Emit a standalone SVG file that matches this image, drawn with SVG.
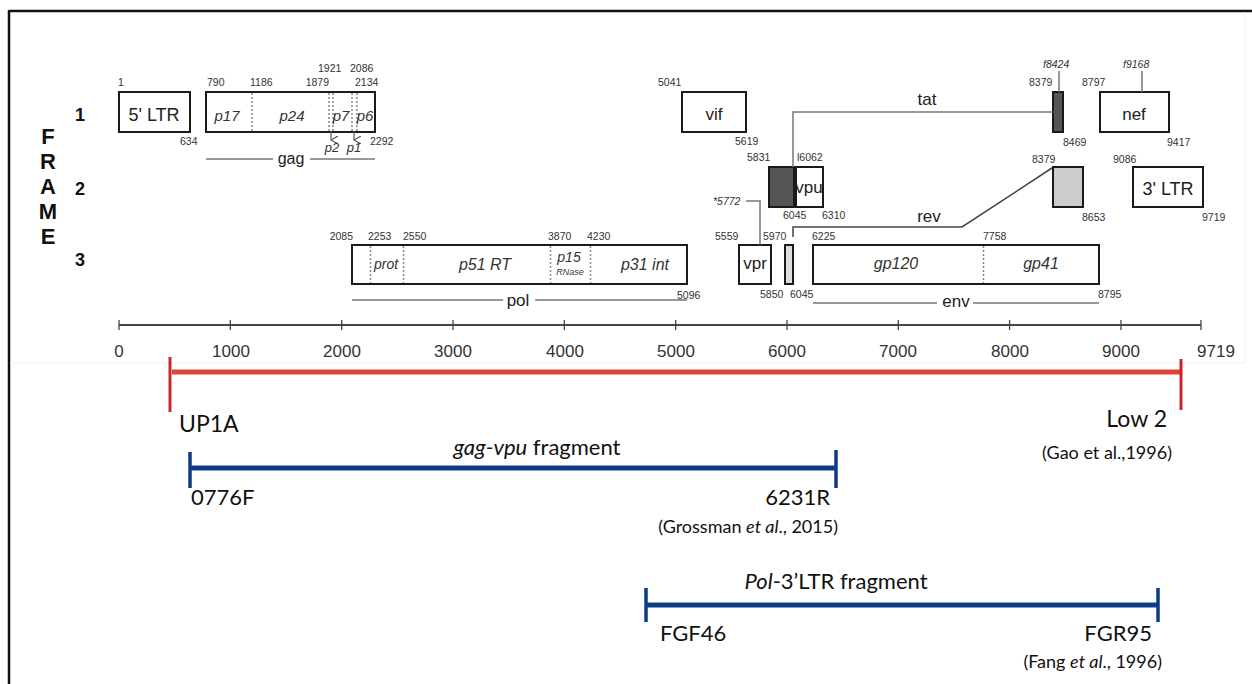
<svg xmlns="http://www.w3.org/2000/svg" width="1252" height="684" viewBox="0 0 1252 684">
<style>
.n{font-family:"Liberation Sans",Arial,sans-serif;font-size:10.5px;fill:#333}
.ni{font-family:"Liberation Sans",Arial,sans-serif;font-size:10.5px;fill:#333;font-style:italic}
.lb{font-family:"Liberation Sans",Arial,sans-serif;font-size:17px;fill:#222;text-anchor:middle}
.li{font-family:"Liberation Sans",Arial,sans-serif;font-size:15px;fill:#333;text-anchor:middle;font-style:italic}
.fr{font-family:"Liberation Sans",Arial,sans-serif;font-size:22px;font-weight:bold;fill:#111;text-anchor:middle}
.ax{font-family:"Liberation Sans",Arial,sans-serif;font-size:17px;fill:#333;text-anchor:middle}
.box{fill:#fff;stroke:#1a1a1a;stroke-width:2}
.dot{stroke:#888;stroke-width:1.5;stroke-dasharray:2,2}
.ln{stroke:#777;stroke-width:1.5;fill:none}
.bt{font-family:Lato,"Open Sans",sans-serif;font-size:22px;fill:#111}
.ct{font-family:Lato,"Open Sans",sans-serif;font-size:18px;fill:#111}
.red{stroke:#e0453a;stroke-width:5}
.redt{stroke:#c8262e;stroke-width:3}
.blue{stroke:#0d3b87;stroke-width:5}
.bluet{stroke:#0d3b87;stroke-width:3.5}
</style>
<defs>
<marker id="vh" viewBox="0 0 8 8" refX="4" refY="7" markerWidth="8" markerHeight="8" markerUnits="userSpaceOnUse" orient="auto-start-reverse">
<path d="M0,0 L4,7 L8,0" fill="none" stroke="#555" stroke-width="1.2"/>
</marker>
</defs>
<rect width="1252" height="684" fill="#fff"/>
<g id="frame-border">
<line x1="9" y1="11" x2="1252" y2="11" stroke="#111" stroke-width="2.5"/>
<line x1="9" y1="10" x2="9" y2="684" stroke="#111" stroke-width="2.5"/>
<line x1="1245" y1="12" x2="1245" y2="363" stroke="#eee" stroke-width="1"/>
<line x1="10" y1="363" x2="1245" y2="363" stroke="#eee" stroke-width="1"/>
</g>
<g id="frame-label">
<text class="fr" x="48" y="144">F</text>
<text class="fr" x="48" y="169">R</text>
<text class="fr" x="48" y="194">A</text>
<text class="fr" x="48" y="219">M</text>
<text class="fr" x="48" y="244">E</text>
<text class="fr" x="80" y="121" style="font-size:18px">1</text>
<text class="fr" x="80" y="195" style="font-size:18px">2</text>
<text class="fr" x="80" y="266" style="font-size:18px">3</text>
</g>
<g id="ltr5">
<rect class="box" x="119" y="92" width="71" height="40"/>
<text class="lb" x="154" y="121" style="font-size:18px">5' LTR</text>
<text class="n" x="118" y="86">1</text>
<text class="n" x="180" y="145">634</text>
</g>
<g id="gag">
<rect class="box" x="206" y="92" width="169" height="40"/>
<line class="dot" x1="252" y1="93" x2="252" y2="131"/>
<line class="dot" x1="329" y1="93" x2="329" y2="131"/>
<line class="dot" x1="333" y1="93" x2="333" y2="131"/>
<line class="dot" x1="352" y1="93" x2="352" y2="131"/>
<line class="dot" x1="357" y1="93" x2="357" y2="131"/>
<text class="li" x="227" y="121">p17</text>
<text class="li" x="292" y="121">p24</text>
<text class="li" x="341" y="121">p7</text>
<text class="li" x="365" y="121">p6</text>
<line x1="331" y1="131" x2="331" y2="140" stroke="#555" stroke-width="1.2" marker-end="url(#vh)"/>
<line x1="354" y1="131" x2="354" y2="140" stroke="#555" stroke-width="1.2" marker-end="url(#vh)"/>
<text class="li" x="332" y="152" style="font-size:13px">p2</text>
<text class="li" x="354" y="152" style="font-size:13px">p1</text>
<text class="n" x="207" y="86">790</text>
<text class="n" x="250" y="86">1186</text>
<text class="n" x="329" y="86" text-anchor="end">1879</text>
<text class="n" x="318" y="72">1921</text>
<text class="n" x="350" y="72">2086</text>
<text class="n" x="355" y="86">2134</text>
<text class="n" x="370" y="145">2292</text>
<line class="ln" x1="206" y1="159" x2="273" y2="159"/>
<line class="ln" x1="310" y1="159" x2="375" y2="159"/>
<text class="lb" x="291" y="164" style="font-size:16px">gag</text>
</g>
<g id="pol">
<rect class="box" x="352" y="245" width="335" height="39"/>
<line class="dot" x1="370.5" y1="246" x2="370.5" y2="283"/>
<line class="dot" x1="403.5" y1="246" x2="403.5" y2="283"/>
<line class="dot" x1="550.5" y1="246" x2="550.5" y2="283"/>
<line class="dot" x1="590.5" y1="246" x2="590.5" y2="283"/>
<text class="li" x="386" y="269" style="font-size:14px">prot</text>
<text class="li" x="485" y="270" style="font-size:16px">p51 RT</text>
<text class="li" x="569" y="262" style="font-size:14px">p15</text>
<text class="li" x="570" y="275" style="font-size:9px">RNase</text>
<text class="li" x="645" y="270" style="font-size:16px">p31 int</text>
<text class="n" x="353" y="240" text-anchor="end">2085</text>
<text class="n" x="368" y="240">2253</text>
<text class="n" x="403" y="240">2550</text>
<text class="n" x="548" y="240">3870</text>
<text class="n" x="587" y="240">4230</text>
<text class="n" x="677" y="299">5096</text>
<line class="ln" x1="352" y1="300" x2="503" y2="300"/>
<line class="ln" x1="535" y1="300" x2="687" y2="300"/>
<text class="lb" x="518" y="306">pol</text>
</g>
<g id="vif">
<rect class="box" x="682" y="92" width="64" height="40"/>
<text class="lb" x="714" y="120">vif</text>
<text class="n" x="658" y="86">5041</text>
<text class="n" x="735" y="145">5619</text>
</g>
<g id="tat">
<rect x="1053" y="92" width="10" height="40" fill="#555" stroke="#1a1a1a" stroke-width="2"/>
<rect x="769" y="167" width="25" height="40" fill="#555" stroke="#1a1a1a" stroke-width="2"/>
<text class="lb" x="927" y="105">tat</text>
<text class="n" x="747" y="161">5831</text>
<text class="n" x="1029" y="86">8379</text>
<text class="n" x="1063" y="146">8469</text>
<text class="ni" x="1043" y="68">f8424</text>
<line class="ln" x1="1059" y1="71" x2="1059" y2="92"/>
</g>
<g id="vpu">
<rect class="box" x="796" y="167" width="27" height="40"/>
<text class="lb" x="809" y="193">vpu</text>
<text class="n" x="797" y="161">l6062</text>
<text class="n" x="783" y="219">6045</text>
<text class="n" x="822" y="219">6310</text>
</g>
<g id="nef">
<rect class="box" x="1100" y="92" width="69" height="40"/>
<text class="lb" x="1134" y="120">nef</text>
<text class="n" x="1082" y="86">8797</text>
<text class="n" x="1167" y="146">9417</text>
<text class="ni" x="1123" y="68">f9168</text>
<line class="ln" x1="1142" y1="71" x2="1142" y2="92"/>
</g>
<g id="rev">
<rect x="1053" y="167" width="30" height="40" fill="#ccc" stroke="#1a1a1a" stroke-width="2"/>
<rect x="785" y="245" width="8" height="39" fill="#ddd" stroke="#1a1a1a" stroke-width="2"/>
<text class="lb" x="929" y="222">rev</text>
<text class="n" x="1032" y="163">8379</text>
<text class="n" x="1082" y="221">8653</text>
<text class="n" x="763" y="240">5970</text>
<text class="n" x="790" y="298">6045</text>
</g>
<g id="ltr3">
<rect class="box" x="1133" y="167" width="70" height="40"/>
<text class="lb" x="1168" y="195" style="font-size:18px">3' LTR</text>
<text class="n" x="1113" y="163">9086</text>
<text class="n" x="1202" y="221">9719</text>
</g>
<g id="vpr">
<rect class="box" x="739" y="245" width="32" height="39"/>
<text class="lb" x="755" y="269">vpr</text>
<text class="n" x="715" y="240">5559</text>
<text class="n" x="760" y="298">5850</text>
<text class="ni" x="713" y="205">*5772</text>
</g>
<g id="env">
<rect class="box" x="813" y="245" width="286" height="39"/>
<line class="dot" x1="983.5" y1="246" x2="983.5" y2="283"/>
<text class="li" x="896" y="269" style="font-size:16px">gp120</text>
<text class="li" x="1041" y="269" style="font-size:16px">gp41</text>
<text class="n" x="812" y="240">6225</text>
<text class="n" x="983" y="240">7758</text>
<text class="n" x="1098" y="298">8795</text>
<line class="ln" x1="813" y1="303" x2="937" y2="303"/>
<line class="ln" x1="973" y1="303" x2="1099" y2="303"/>
<text class="lb" x="956" y="307">env</text>
</g>
<g id="connectors">
<polyline class="ln" points="793,167 793,112 1053,112"/>
<polyline points="793,237 793,227 962,227 1052,168" fill="none" stroke="#444" stroke-width="1.5"/>
<polyline class="ln" points="746,201 760,201 760,245"/>
</g>
<g id="axis">
<line x1="119" y1="325" x2="1201" y2="325" stroke="#444" stroke-width="2"/>
<g stroke="#444" stroke-width="1.3">
<line x1="119" y1="320" x2="119" y2="330"/>
<line x1="230.3" y1="320" x2="230.3" y2="330"/>
<line x1="341.7" y1="320" x2="341.7" y2="330"/>
<line x1="453" y1="320" x2="453" y2="330"/>
<line x1="564.3" y1="320" x2="564.3" y2="330"/>
<line x1="675.7" y1="320" x2="675.7" y2="330"/>
<line x1="787" y1="320" x2="787" y2="330"/>
<line x1="898.3" y1="320" x2="898.3" y2="330"/>
<line x1="1009.6" y1="320" x2="1009.6" y2="330"/>
<line x1="1121" y1="320" x2="1121" y2="330"/>
<line x1="1201" y1="320" x2="1201" y2="330"/>
</g>
<text class="ax" x="119" y="357">0</text>
<text class="ax" x="231" y="357">1000</text>
<text class="ax" x="342" y="357">2000</text>
<text class="ax" x="453" y="357">3000</text>
<text class="ax" x="565" y="357">4000</text>
<text class="ax" x="676" y="357">5000</text>
<text class="ax" x="787" y="357">6000</text>
<text class="ax" x="898" y="357">7000</text>
<text class="ax" x="1010" y="357">8000</text>
<text class="ax" x="1121" y="357">9000</text>
<text class="ax" x="1216" y="357">9719</text>
</g>
<g id="full-genome-primers">
<line class="red" x1="172" y1="372" x2="1181" y2="372"/>
<line class="redt" x1="170" y1="357" x2="170" y2="412"/>
<line class="redt" x1="1181" y1="359" x2="1181" y2="410"/>
<text class="bt" x="179" y="432" style="font-size:23px">UP1A</text>
<text class="bt" x="1167" y="427" text-anchor="end" style="font-size:23px">Low 2</text>
<text class="ct" x="1172" y="459" text-anchor="end">(Gao et al.,1996)</text>
</g>
<g id="gag-vpu-fragment">
<text class="bt" x="537" y="455" text-anchor="middle"><tspan font-style="italic">gag-vpu</tspan> fragment</text>
<line class="blue" x1="190" y1="468" x2="836" y2="468"/>
<line class="bluet" x1="190" y1="452" x2="190" y2="488"/>
<line class="bluet" x1="836" y1="450" x2="836" y2="488"/>
<text class="bt" x="191" y="505">0776F</text>
<text class="bt" x="830" y="505" text-anchor="end">6231R</text>
<text class="ct" x="838" y="533" text-anchor="end">(Grossman <tspan font-style="italic">et al</tspan>., 2015)</text>
</g>
<g id="pol-3ltr-fragment">
<text class="bt" x="836" y="589" text-anchor="middle"><tspan font-style="italic">Pol</tspan>-3’LTR fragment</text>
<line class="blue" x1="646" y1="605" x2="1158" y2="605"/>
<line class="bluet" x1="646" y1="588" x2="646" y2="622"/>
<line class="bluet" x1="1158" y1="588" x2="1158" y2="622"/>
<text class="bt" x="660" y="641">FGF46</text>
<text class="bt" x="1152" y="641" text-anchor="end">FGR95</text>
<text class="ct" x="1162" y="668" text-anchor="end">(Fang <tspan font-style="italic">et al</tspan>., 1996)</text>
</g>
</svg>
